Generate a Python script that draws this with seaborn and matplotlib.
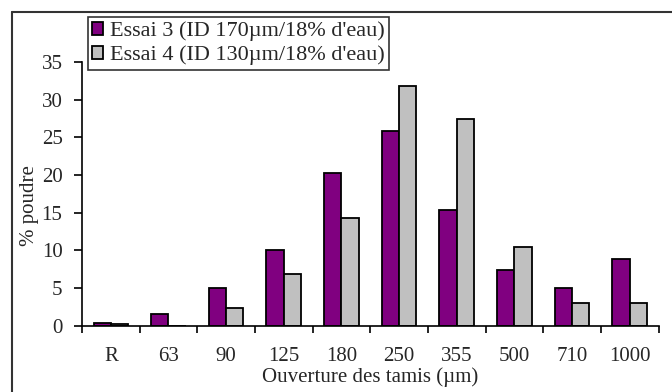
import matplotlib
matplotlib.use('Agg')
import matplotlib.pyplot as plt
import seaborn as sns
import pandas as pd
from matplotlib.lines import Line2D

# sieve openings (µm) and % powder retained for each trial
tamis = ['R', '63', '90', '125', '180', '250', '355', '500', '710', '1000']
essai3 = [0.4, 1.5, 5.0, 10.1, 20.2, 25.9, 15.4, 7.4, 5.0, 8.9]
essai4 = [0.2, 0.0, 2.4, 6.8, 14.3, 31.8, 27.4, 10.4, 3.0, 3.0]
series = ["Essai 3 (ID 170µm/18% d'eau)", "Essai 4 (ID 130µm/18% d'eau)"]
colors = ['#800080', '#C0C0C0']

df = pd.DataFrame({
    'tamis': tamis * 2,
    'pct': essai3 + essai4,
    'essai': [series[0]] * len(tamis) + [series[1]] * len(tamis),
})

sns.set_style('white')
plt.rcParams['font.family'] = ['Liberation Serif', 'DejaVu Serif']
plt.rcParams['font.size'] = 15
fs = 15

fig = plt.figure(figsize=(6.72, 3.92), dpi=100)
ax = fig.add_axes([0.122, 0.169, 0.858, 0.673])

sns.barplot(data=df, x='tamis', y='pct', hue='essai', order=tamis,
            palette=colors, width=0.6, edgecolor='black', linewidth=1.3,
            saturation=1, ax=ax)

ax.set_xlim(-0.5, 9.5)
ax.set_ylim(0, 35)
ax.set_yticks(range(0, 36, 5))

# major ticks on category boundaries, labels in the middle
ax.set_xticks([i - 0.5 for i in range(len(tamis) + 1)])
ax.set_xticklabels([])
ax.set_xticks(range(len(tamis)), minor=True)
ax.set_xticklabels(tamis, minor=True)
ax.tick_params(axis='x', which='major', direction='out', length=5, width=1.2, color='black', bottom=True)
ax.tick_params(axis='x', which='minor', length=0, pad=15, labelsize=fs)
ax.tick_params(axis='y', direction='out', length=6, width=1.2, color='black', left=True, labelsize=fs, pad=8)

for side in ['top', 'right']:
    ax.spines[side].set_visible(False)
for side in ['left', 'bottom']:
    ax.spines[side].set_color('black')
    ax.spines[side].set_linewidth(1.2)

ax.set_xlabel('Ouverture des tamis (µm)', fontsize=fs, labelpad=1)
ax.set_ylabel('% poudre', fontsize=fs, labelpad=2)
ax.yaxis.label.set_y(0.455)

leg = ax.legend(loc='upper left', bbox_to_anchor=(0.01, 1.17), frameon=True,
                fancybox=False, fontsize=16, handlelength=0.5, handleheight=0.5,
                handletextpad=0.3, borderpad=0.2, labelspacing=0.2,
                borderaxespad=0, title=None)
leg.get_frame().set_edgecolor('black')
leg.get_frame().set_linewidth(1.2)

# outer frame (left and top edges visible in the reference)
fig.add_artist(Line2D([12 / 672, 12 / 672], [0, 1 - 12 / 392], color='#333333', lw=1.5))
fig.add_artist(Line2D([12 / 672, 1], [1 - 12 / 392, 1 - 12 / 392], color='#333333', lw=1.5))

fig.savefig('out.png', dpi=100)
